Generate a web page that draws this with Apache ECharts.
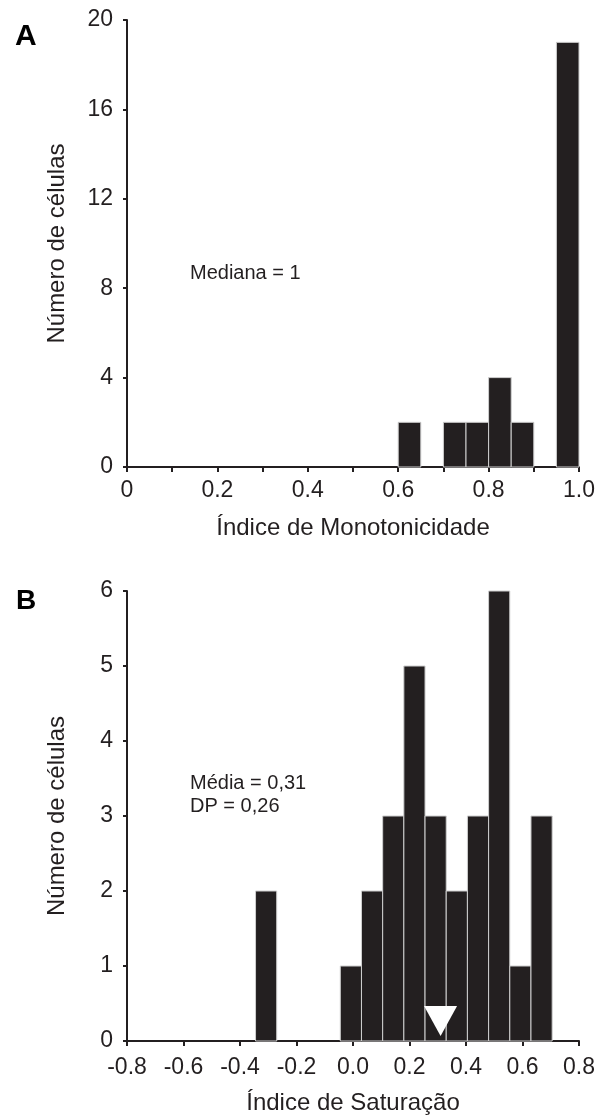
<!DOCTYPE html>
<html>
<head>
<meta charset="utf-8">
<script src="https://cdn.jsdelivr.net/npm/echarts@6/dist/echarts.min.js"></script>
<style>
html,body{margin:0;padding:0;background:#fff;}
#chart{width:598px;height:1120px;}
</style>
</head>
<body>
<div id="chart"></div>
<script>
// ---- Panel A data (histogram of monotonicity index) ----
var binLeftA = [0.60, 0.70, 0.75, 0.80, 0.85, 0.95];
var countsA = [2, 2, 2, 4, 2, 19];
var binWidthA = 0.05;
var yTicksA = [0, 4, 8, 12, 16, 20];
var xTicksA = [0, 0.2, 0.4, 0.6, 0.8, 1.0];
var medianA = 1;

// ---- Panel B data (histogram of saturation index) ----
var binLeftB = [-0.345, -0.045, 0.03, 0.105, 0.18, 0.255, 0.33, 0.405, 0.48, 0.555, 0.63];
var countsB = [2, 1, 2, 3, 5, 3, 2, 3, 6, 1, 3];
var binWidthB = 0.075;
var yTicksB = [0, 1, 2, 3, 4, 5, 6];
var xTicksB = [-0.8, -0.6, -0.4, -0.2, 0.0, 0.2, 0.4, 0.6, 0.8];
var meanB = 0.31;
var sdB = 0.26;

var FONT = "'Liberation Sans', Arial, Helvetica, sans-serif";
var INK = '#231f20';

function binData(lefts, counts, w) {
  return lefts.map(function (l, i) { return [l, l + w, counts[i]]; });
}

function renderBar(params, api) {
  var p0 = api.coord([api.value(0), api.value(2)]);
  var p1 = api.coord([api.value(1), 0]);
  return {
    type: 'rect',
    shape: { x: p0[0], y: p0[1], width: p1[0] - p0[0], height: p1[1] - p0[1] },
    style: { fill: INK, stroke: '#cfcfcf', lineWidth: 1 }
  };
}

function axisCommon() {
  return {
    axisLine: { show: true, onZero: false, lineStyle: { color: INK, width: 2 } },
    axisTick: { show: true, length: 5, lineStyle: { color: INK, width: 2 } },
    splitLine: { show: false },
    axisLabel: { color: INK, fontFamily: FONT, fontSize: 23 },
    nameTextStyle: { color: INK, fontFamily: FONT, fontSize: 24 }
  };
}

function merge(a, b) { for (var k in b) a[k] = b[k]; return a; }

var chart = echarts.init(document.getElementById('chart'), null, { renderer: 'canvas' });

var xA = merge(axisCommon(), {
  type: 'value', gridIndex: 0,
  min: xTicksA[0], max: xTicksA[xTicksA.length - 1], interval: 0.1,
  name: 'Índice de Monotonicidade', nameLocation: 'middle', nameGap: 49
});
xA.axisLabel = merge(xA.axisLabel, {
  margin: 12,
  formatter: function (v) {
    var k = Math.round(v * 10);
    if (k % 2 !== 0) return '';
    return k === 0 ? '0' : (k / 10).toFixed(1);
  }
});

var yA = merge(axisCommon(), {
  type: 'value', gridIndex: 0,
  min: yTicksA[0], max: yTicksA[yTicksA.length - 1], interval: yTicksA[1] - yTicksA[0],
  name: 'Número de células', nameLocation: 'middle', nameGap: 58
});
yA.axisTick = merge(yA.axisTick, { length: 4 });
yA.axisLabel = merge(yA.axisLabel, { margin: 14 });

var xB = merge(axisCommon(), {
  type: 'value', gridIndex: 1,
  min: xTicksB[0], max: xTicksB[xTicksB.length - 1], interval: 0.2,
  name: 'Índice de Saturação', nameLocation: 'middle', nameGap: 50
});
xB.axisLabel = merge(xB.axisLabel, {
  margin: 15,
  formatter: function (v) {
    if (Math.abs(v) < 1e-9) return '0.0';
    return v.toFixed(1);
  }
});

var yB = merge(axisCommon(), {
  type: 'value', gridIndex: 1,
  min: yTicksB[0], max: yTicksB[yTicksB.length - 1], interval: 1,
  name: 'Número de células', nameLocation: 'middle', nameGap: 58
});
yB.axisTick = merge(yB.axisTick, { length: 4 });
yB.axisLabel = merge(yB.axisLabel, { margin: 14 });

var option = {
  backgroundColor: '#ffffff',
  animation: false,
  grid: [
    { left: 127, top: 20, width: 452, height: 447 },
    { left: 127, top: 591, width: 452, height: 450 }
  ],
  xAxis: [xA, xB],
  yAxis: [yA, yB],
  graphic: [
    { type: 'text', left: 15, top: 22, style: { text: 'A', fontFamily: FONT, fontSize: 30, fontWeight: 'bold', fill: '#000' } },
    { type: 'text', left: 16, top: 587, style: { text: 'B', fontFamily: FONT, fontSize: 28, fontWeight: 'bold', fill: '#000' } },
    { type: 'text', left: 190, top: 263, style: { text: 'Mediana = ' + medianA, fontFamily: FONT, fontSize: 20, fill: INK } },
    { type: 'text', left: 190, top: 772, style: { text: 'Média = ' + String(meanB).replace('.', ',') + '\nDP = ' + String(sdB).replace('.', ','), fontFamily: FONT, fontSize: 20, lineHeight: 23, fill: INK } }
  ],
  series: [
    {
      type: 'custom', xAxisIndex: 0, yAxisIndex: 0,
      renderItem: renderBar,
      encode: { x: [0, 1], y: 2 },
      data: binData(binLeftA, countsA, binWidthA)
    },
    {
      type: 'custom', xAxisIndex: 1, yAxisIndex: 1,
      renderItem: renderBar,
      encode: { x: [0, 1], y: 2 },
      data: binData(binLeftB, countsB, binWidthB)
    },
    {
      type: 'scatter', xAxisIndex: 1, yAxisIndex: 1,
      symbol: 'triangle', symbolRotate: 180, symbolSize: [33, 30], symbolOffset: [0, -20],
      itemStyle: { color: '#ffffff', opacity: 1 },
      z: 5,
      data: [[meanB, 0]]
    }
  ]
};
chart.setOption(option);
</script>
</body>
</html>
